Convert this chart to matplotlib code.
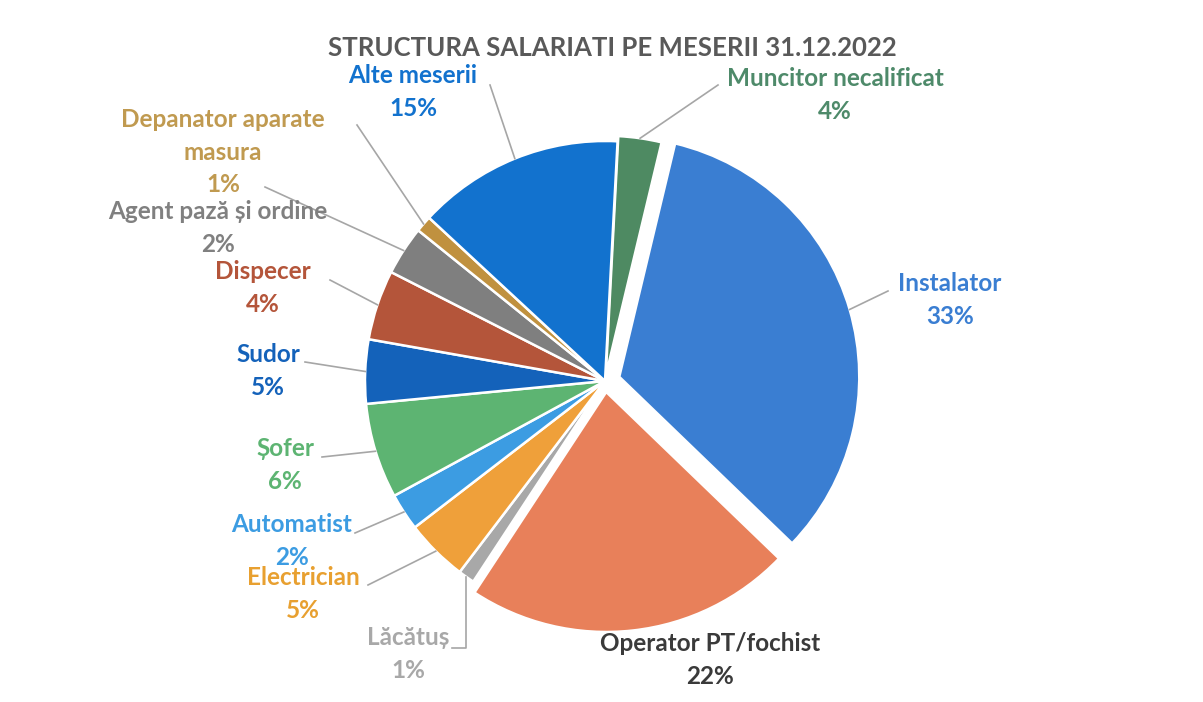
import numpy as np
import matplotlib.pyplot as plt

plt.rcParams['font.family'] = ['Lato', 'DejaVu Sans']

# slices clockwise from 12 o'clock
jobs = ['Muncitor necalificat', 'Instalator', 'Operator PT/fochist', 'Lăcătuș',
        'Electrician', 'Automatist', 'Șofer', 'Sudor', 'Dispecer',
        'Agent pază și ordine', 'Depanator aparate\nmasura', 'Alte meserii']
shares = [2.9, 33.4, 22.0, 1.1, 4.2, 2.5, 6.4, 4.3, 4.7, 3.3, 1.1, 13.9]
pct_text = ['4%', '33%', '22%', '1%', '5%', '2%', '6%', '5%', '4%', '2%', '1%', '15%']
colors = ['#4E8A62', '#3A7ED2', '#E8805A', '#A8A8A8', '#EFA03A', '#3C9CE2',
          '#5DB472', '#1462BA', '#B4553A', '#7F7F7F', '#C0913F', '#1272CE']
text_colors = ['#4E8A6A', '#3A7ED2', '#3A3A3A', '#A8A8A8', '#E8A030', '#3C9CE2',
               '#5DB472', '#1462BA', '#B4553A', '#808080', '#C09A50', '#1272CE']
explode = [0.022, 0.062, 0.046, 0, 0, 0, 0, 0, 0, 0, 0, 0]

W, H = 1203, 702
cx, cy, R = 605, 381, 240   # pie centre / radius in image pixels

# label centres (image px) and leader start points
label_xy = [(835, 95), (950, 300), (710, 660), (408, 654), (303, 594), (292, 541),
            (285, 465), (268, 371), (263, 288), (218, 228), (223, 152), (413, 92)]
leader_from = [(718, 85), (888, 291), None, (452, 648), (368, 585), (355, 533),
               (322, 457), (305, 362), (330, 280), (265, 187), (357, 125), (490, 85)]

fig = plt.figure(figsize=(W / 100, H / 100), dpi=100)
ax = fig.add_axes([0, 0, 1, 1])

# pie explode is in data units here, so scale by radius
wedges, _ = ax.pie(shares, colors=colors, explode=[e * R for e in explode],
                   startangle=87, counterclock=False, center=(cx, H - cy), radius=R,
                   wedgeprops=dict(edgecolor='white', linewidth=1.8), frame=True)
ax.set_xlim(0, W)
ax.set_ylim(0, H)
ax.axis('off')

ax.text(612, H - 48, 'STRUCTURA SALARIATI PE MESERII 31.12.2022', ha='center',
        va='center', fontsize=18.5, fontweight='bold', color='#595959')

for i, w in enumerate(wedges):
    lx, ly = label_xy[i]
    ax.text(lx, H - ly, jobs[i] + '\n' + pct_text[i], ha='center', va='center',
            fontsize=17.5, fontweight='bold', color=text_colors[i], linespacing=1.5)
    if leader_from[i] is None:
        continue
    mid = np.deg2rad((w.theta1 + w.theta2) / 2)
    ex, ey = w.center
    px = ex + R * np.cos(mid)
    py = ey + R * np.sin(mid)
    sx, sy = leader_from[i]
    if jobs[i] == 'Lăcătuș':
        ax.plot([sx, px, px], [H - sy, H - sy, py], color='#A6A6A6', lw=1.2)
    else:
        ax.plot([sx, px], [H - sy, py], color='#A6A6A6', lw=1.2)

fig.savefig('out.png', dpi=100, facecolor='white')
